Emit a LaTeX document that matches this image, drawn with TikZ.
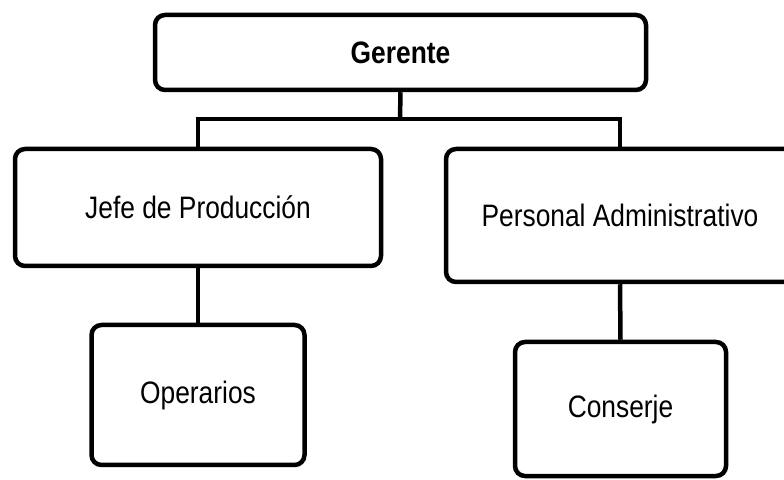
\documentclass[tikz,border=0pt]{standalone}
\usepackage{fontspec}
\newfontfamily\labfont{Liberation Sans}[FakeStretch=0.85]
\begin{document}
\begin{tikzpicture}[x=1pt,y=1pt,
  orgbox/.style={draw=black, line width=4.5pt, rounded corners=10pt, fill=white,
    inner sep=0pt, font=\labfont\fontsize{31}{37}\selectfont},
  link/.style={draw=black, line width=4.5pt, line join=miter}]
\useasboundingbox (0,0) rectangle (784,479);
\clip (0,0) rectangle (784,479);
\fill[white] (0,0) rectangle (784,479);
% y measured from top: y_tikz = 479 - y
\node[orgbox, minimum width=491pt, minimum height=75pt] (ger) at (400.5,426.5) {\bfseries Gerente};
\node[orgbox, minimum width=366pt, minimum height=117pt] (jefe) at (198,271.5) {Jefe de Producción};
\node[orgbox, minimum width=348pt, minimum height=133pt] (pers) at (620,263.5) {Personal Administrativo};
\node[orgbox, minimum width=213pt, minimum height=140pt] (oper) at (198,84) {Operarios};
\node[orgbox, minimum width=211pt, minimum height=134pt] (cons) at (620.5,70) {Conserje};
\coordinate (bus) at (400,360);
\draw[link] (ger.south) -- (bus);
\draw[link] (jefe.north) |- (bus) -| (pers.north);
\draw[link] (jefe.south) -- (oper.north);
\draw[link] (pers.south) -- (cons.north);
\end{tikzpicture}
\end{document}
